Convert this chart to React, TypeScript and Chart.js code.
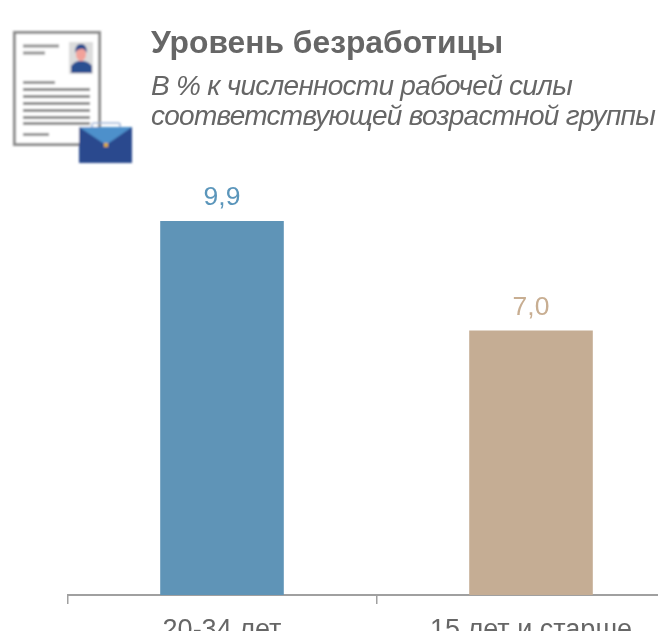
import React, { useEffect, useRef } from "react";
import { Chart, registerables } from "chart.js";

Chart.register(...registerables);

const categories = ["20-34 лет", "15 лет и старше"];
const values = [9.9, 7.0];
const valueLabels = ["9,9", "7,0"];
const barColors = ["#5f94b7", "#c5ad94"];
const labelColors = ["#5b96bb", "#c8ae92"];
const titleText = "Уровень безработицы";
const subtitleLines = ["В % к численности рабочей силы", "соответствующей возрастной группы"];
const FONT = "'Liberation Sans', Arial, sans-serif";

const valueLabelPlugin = {
  id: "valueLabels",
  afterDatasetsDraw(chart: any) {
    const { ctx } = chart;
    const meta = chart.getDatasetMeta(0);
    ctx.save();
    ctx.font = `26.5px ${FONT}`;
    ctx.textAlign = "center";
    ctx.textBaseline = "bottom";
    meta.data.forEach((bar: any, i: number) => {
      ctx.fillStyle = labelColors[i];
      ctx.fillText(valueLabels[i], bar.x, bar.y - 10);
    });
    ctx.restore();
  },
};

function Icon() {
  return (
    <svg width="150" height="175" style={{ position: "absolute", left: 0, top: 0 }}>
      <defs>
        <filter id="b" x="-5%" y="-5%" width="110%" height="110%">
          <feGaussianBlur stdDeviation="0.8" />
        </filter>
      </defs>
      <g filter="url(#b)">
        <rect x="14.5" y="32.5" width="85" height="112" fill="#fff" stroke="#8c8c8c" strokeWidth="3" />
        <rect x="23" y="44.5" width="36" height="3" fill="#8f8f8f" />
        <rect x="23" y="51.5" width="22" height="3" fill="#8f8f8f" />
        <rect x="23" y="81" width="32" height="3" fill="#8f8f8f" />
        {[88, 95, 102, 109, 116, 122].map((y) => (
          <rect key={y} x="23" y={y} width="67" height="3" fill="#858585" />
        ))}
        <rect x="23" y="133" width="26" height="3" fill="#8f8f8f" />
        <rect x="69" y="42" width="24" height="32" fill="#dcdcdc" />
        <path d="M71 73 L71 66 Q74 62 78 61 L84 61 Q89 62 92 66 L92 73 Z" fill="#2a4f91" />
        <ellipse cx="81" cy="54" rx="5" ry="7" fill="#f2a29a" />
        <path d="M75 53 Q75 44 81 44 Q87 44 87 53 Q84 48 81 49 Q77 49 75 53 Z" fill="#274a8c" />
        <path d="M92 127 L92 124 Q92 123 94 123 L118 123 Q120 123 120 124 L120 127" fill="none" stroke="#9fb4d6" strokeWidth="1.6" />
        <rect x="79" y="127" width="53" height="36" fill="#2a4a8e" />
        <path d="M79 127 L132 127 L106 145 Z" fill="#4d90cb" />
        <rect x="104" y="143" width="4" height="4" fill="#d9a93a" />
      </g>
    </svg>
  );
}

export default function App() {
  const ref = useRef<HTMLCanvasElement>(null);
  useEffect(() => {
    const chart = new Chart(ref.current!, {
      type: "bar",
      data: {
        labels: categories,
        datasets: [{ data: values, backgroundColor: barColors, barPercentage: 0.4, categoryPercentage: 1 }],
      },
      options: {
        animation: false,
        responsive: false,
        layout: { padding: { left: 67.5, right: 34.5, top: 141.6, bottom: 40 } },
        plugins: { legend: { display: false }, tooltip: { enabled: false } },
        scales: {
          y: { display: false, min: 0, max: 12 },
          x: {
            afterFit(scale: any) { scale.height = 65; },
            grid: { drawOnChartArea: false, drawTicks: true, tickLength: 9, color: "#a0a0a0", lineWidth: 1.5 },
            border: { color: "#a0a0a0", width: 2 },
            ticks: { color: "#666666", font: { family: FONT, size: 27 }, padding: 10, maxRotation: 0, autoSkip: false },
          },
        },
      },
      plugins: [valueLabelPlugin],
    } as any);
    return () => chart.destroy();
  }, []);

  const textBase: React.CSSProperties = { position: "absolute", fontFamily: FONT, color: "#666666", whiteSpace: "nowrap" };
  return (
    <div style={{ position: "fixed", left: 0, top: 0, width: 658, height: 631, overflow: "hidden", background: "#fff" }}>
      <canvas ref={ref} width={720} height={700} style={{ position: "absolute", left: 0, top: 0, width: 720, height: 700 }} />
      <Icon />
      <div style={{ ...textBase, left: 151, top: 24, fontSize: 31.8, lineHeight: "36px", fontWeight: 700 }}>{titleText}</div>
      <div style={{ ...textBase, left: 151, top: 71, fontSize: 28, lineHeight: "30px", fontStyle: "italic", letterSpacing: -0.74 }}>{subtitleLines[0]}</div>
      <div style={{ ...textBase, left: 151, top: 101, fontSize: 28, lineHeight: "30px", fontStyle: "italic", letterSpacing: -0.74 }}>{subtitleLines[1]}</div>
    </div>
  );
}
